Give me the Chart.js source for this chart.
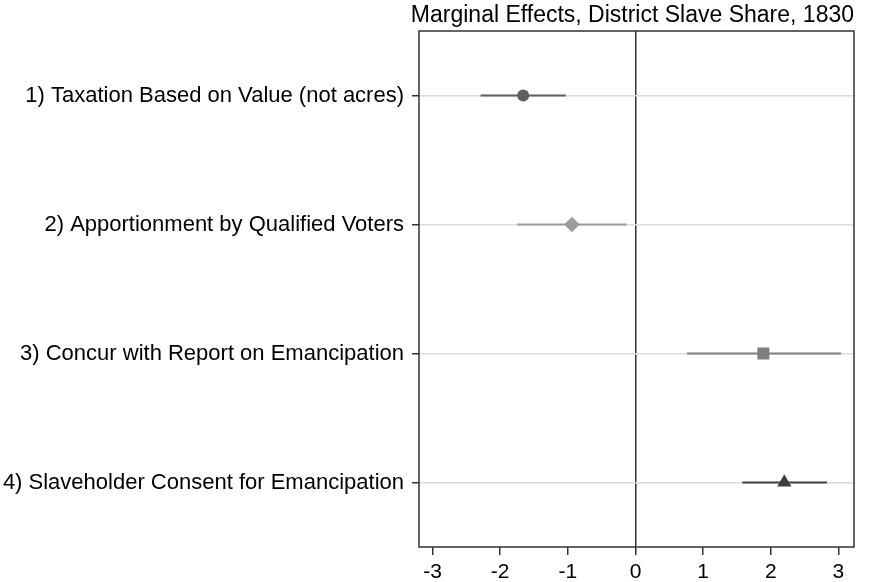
<!DOCTYPE html>
<html>
<head>
<meta charset="utf-8">
<script src="https://cdn.jsdelivr.net/npm/chart.js@4"></script>
<style>
  html, body { margin: 0; padding: 0; background: #fff; }
  #wrap { width: 871px; height: 582px; }
</style>
</head>
<body>
<div id="wrap"><canvas id="myChart" width="871" height="582"></canvas></div>
<script>
const TITLE = 'Marginal Effects, District Slave Share, 1830';

const categories = [
  '1) Taxation Based on Value (not acres)',
  '2) Apportionment by Qualified Voters',
  '3) Concur with Report on Emancipation',
  '4) Slaveholder Consent for Emancipation',
];
const estimates = [-1.66, -0.94, 1.89, 2.20];
const lowerCI = [-2.29, -1.75, 0.76, 1.58];
const upperCI = [-1.03, -0.13, 3.04, 2.83];
const xTicks = [-3, -2, -1, 0, 1, 2, 3];

const markerStyles = ['circle', 'rectRot', 'rect', 'triangle'];
const markerSizes = [6, 7.8, 8.5, 8.2];
const lineColors = ['#5f5f5f', '#9c9c9c', '#7f7f7f', '#3f3f3f'];
const FONT = '"Liberation Sans", Helvetica, Arial, sans-serif';

const datasets = [];
categories.forEach((label, i) => {
  // confidence interval
  datasets.push({
    type: 'line',
    label: label + ' CI',
    data: [{x: lowerCI[i], y: i + 1}, {x: upperCI[i], y: i + 1}],
    borderColor: lineColors[i],
    borderWidth: 2,
    pointRadius: 0,
    fill: false,
  });
  // point estimate
  datasets.push({
    type: 'scatter',
    label: label,
    data: [{x: estimates[i], y: i + 1}],
    pointStyle: markerStyles[i],
    pointRadius: markerSizes[i],
    backgroundColor: lineColors[i],
    borderColor: lineColors[i],
    borderWidth: 0,
  });
});

// frame round the plot area
const boxPlugin = {
  id: 'boxFrame',
  afterDraw(chart) {
    const {ctx, chartArea: a} = chart;
    ctx.save();
    ctx.strokeStyle = '#333';
    ctx.lineWidth = 1.5;
    ctx.strokeRect(a.left, a.top, a.right - a.left, a.bottom - a.top);
    ctx.restore();
  }
};

const ctx = document.getElementById('myChart');
const chart = new Chart(ctx, {
  type: 'scatter',
  data: { datasets: datasets },
  plugins: [boxPlugin],
  options: {
    responsive: false,
    animation: false,
    layout: { padding: { top: 0, right: 17, bottom: 0, left: 0 } },
    scales: {
      x: {
        type: 'linear',
        min: -3.2,
        max: 3.23,
        z: 1,
        afterBuildTicks: (scale) => { scale.ticks = xTicks.map(v => ({value: v})); },
        afterFit: (scale) => { scale.height = 35; },
        border: { display: false },
        grid: {
          drawOnChartArea: true,
          color: (c) => (c.tick && c.tick.value === 0 ? '#333' : 'rgba(0,0,0,0)'),
          lineWidth: 1.5,
          tickColor: '#333',
          tickLength: 8,
        },
        ticks: {
          color: '#000',
          padding: 5,
          maxRotation: 0,
          font: { family: FONT, size: 21 },
        },
      },
      y: {
        type: 'linear',
        min: 0.5,
        max: 4.5,
        reverse: true,
        afterBuildTicks: (scale) => { scale.ticks = categories.map((c, i) => ({value: i + 1})); },
        afterFit: (scale) => { scale.width = 419; },
        border: { display: false },
        grid: {
          color: '#dcdcdc',
          lineWidth: 1.5,
          tickColor: '#333',
          tickLength: 7,
        },
        ticks: {
          color: '#000',
          padding: 8,
          font: { family: FONT, size: 22 },
          callback: (value) => categories[value - 1],
        },
      },
    },
    plugins: {
      legend: { display: false },
      tooltip: { enabled: false },
      title: {
        display: true,
        text: TITLE,
        align: 'end',
        color: '#000',
        font: { family: FONT, size: 23, weight: 'normal', lineHeight: 1.2 },
        padding: { top: 2, bottom: 1.4 },
      },
    },
  },
});
</script>
</body>
</html>
